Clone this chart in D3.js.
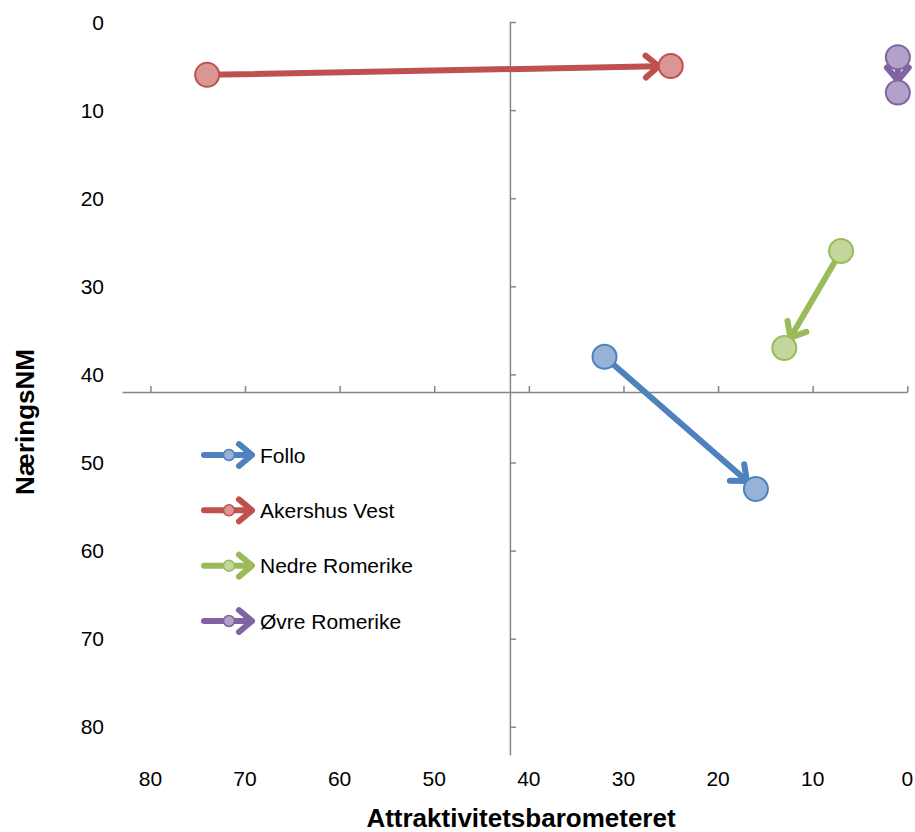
<!DOCTYPE html>
<html>
<head>
<meta charset="utf-8">
<script src="https://cdn.jsdelivr.net/npm/d3@7/dist/d3.min.js"></script>
<style>
  html, body { margin: 0; padding: 0; background: #fff; }
  svg text { font-family: "Liberation Sans", Arial, sans-serif; fill: #000; }
</style>
</head>
<body>
<svg id="chart" width="915" height="832"></svg>
<script>
/* Region movement: Attraktivitetsbarometeret (x, reversed) vs NæringsNM (y, reversed).
   Each arrow goes from the earlier ranking to the later one. */
var regions  = ['Follo', 'Akershus Vest', 'Nedre Romerike', '\u00d8vre Romerike'];
var xFrom    = [32, 74, 7, 1];
var yFrom    = [38, 6, 26, 4];
var xTo      = [16, 25, 13, 1];
var yTo      = [53, 5, 37, 8];
var lineCols = ['#4f81bd', '#c0504d', '#9bbb59', '#8064a2'];
var fillCols = ['#95b3d7', '#da9694', '#c3d69b', '#b3a2c7'];
var tickVals = [0, 10, 20, 30, 40, 50, 60, 70, 80];
var cross = 42; /* where the two axes meet */

(function () {
  'use strict';
  var svg = d3.select('#chart');
  var axisCol = '#868686';

  var x = d3.scaleLinear().domain([83, 0]).range([122, 907.3]);
  var y = d3.scaleLinear().domain([0, 83.2]).range([22, 755]);

  /* axes through the crossing point, ticks only */
  var gx = svg.append('g').attr('transform', 'translate(0,' + y(cross) + ')')
    .call(d3.axisTop(x).tickValues(tickVals).tickSize(6).tickSizeOuter(0).tickFormat(''));
  var gy = svg.append('g').attr('transform', 'translate(' + x(cross) + ',0)')
    .call(d3.axisRight(y).tickValues(tickVals).tickSize(6).tickSizeOuter(0).tickFormat(''));
  [gx, gy].forEach(function (g) {
    g.selectAll('path, line').attr('stroke', axisCol).attr('stroke-width', 1.5);
  });

  /* tick labels sit low / left, Excel style */
  svg.append('g').selectAll('text').data(tickVals).enter().append('text')
    .attr('x', function (d) { return x(d); }).attr('y', 786)
    .attr('text-anchor', 'middle').style('font-size', '21px')
    .text(function (d) { return d; });
  svg.append('g').selectAll('text').data(tickVals).enter().append('text')
    .attr('x', 104).attr('y', function (d) { return y(d); }).attr('dy', '0.36em')
    .attr('text-anchor', 'end').style('font-size', '21px')
    .text(function (d) { return d; });

  /* axis titles */
  svg.append('text').attr('x', 521).attr('y', 827).attr('text-anchor', 'middle')
    .style('font-size', '26px').style('font-weight', 'bold').text('Attraktivitetsbarometeret');
  svg.append('text').attr('transform', 'translate(34,422) rotate(-90)').attr('text-anchor', 'middle')
    .style('font-size', '26px').style('font-weight', 'bold').text('N\u00e6ringsNM');

  var R = 12, headLen = 17, headAng = 40 * Math.PI / 180;

  function arrow(g, x0, y0, x1, y1, col, w, stopShort, hl) {
    var dx = x1 - x0, dy = y1 - y0, len = Math.sqrt(dx * dx + dy * dy);
    var ux = dx / len, uy = dy / len;
    var tx = x1 - ux * stopShort, ty = y1 - uy * stopShort;
    g.append('line').attr('x1', x0).attr('y1', y0).attr('x2', tx - ux * 2).attr('y2', ty - uy * 2)
      .attr('stroke', col).attr('stroke-width', w).attr('stroke-linecap', 'round');
    var bx = -ux, by = -uy;
    function rot(a) {
      return [tx + hl * (bx * Math.cos(a) - by * Math.sin(a)),
              ty + hl * (bx * Math.sin(a) + by * Math.cos(a))];
    }
    g.append('path').attr('d', d3.line()([rot(headAng), [tx, ty], rot(-headAng)]))
      .attr('fill', 'none').attr('stroke', col).attr('stroke-width', w)
      .attr('stroke-linecap', 'round').attr('stroke-linejoin', 'round');
  }

  var plot = svg.append('g');
  regions.forEach(function (name, i) {
    arrow(plot.append('g'), x(xFrom[i]), y(yFrom[i]), x(xTo[i]), y(yTo[i]), lineCols[i], 6, R, headLen);
  });
  regions.forEach(function (name, i) {
    [[xFrom[i], yFrom[i]], [xTo[i], yTo[i]]].forEach(function (p) {
      plot.append('circle').attr('cx', x(p[0])).attr('cy', y(p[1])).attr('r', R)
        .attr('fill', fillCols[i]).attr('stroke', lineCols[i]).attr('stroke-width', 2);
    });
  });

  /* legend */
  var legY = d3.scalePoint().domain(regions).range([455, 621]);
  var leg = svg.append('g');
  regions.forEach(function (name, i) {
    var ly = legY(name);
    var g = leg.append('g');
    arrow(g, 204, ly, 252, ly, lineCols[i], 6, 0, 17);
    g.append('circle').attr('cx', 229).attr('cy', ly).attr('r', 5.5)
      .attr('fill', fillCols[i]).attr('stroke', lineCols[i]).attr('stroke-width', 1.5);
    g.append('text').attr('x', 260).attr('y', ly).attr('dy', '0.36em')
      .style('font-size', '21px').text(name);
  });
})();
</script>
</body>
</html>
